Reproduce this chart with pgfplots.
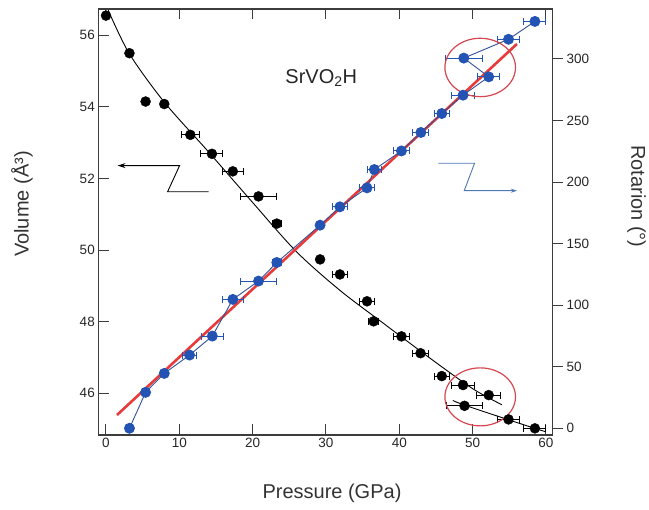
\documentclass[border=0pt]{standalone}
\usepackage{fontspec}
\setmainfont{Liberation Sans}
\usepackage{pgfplots}
\pgfplotsset{compat=1.18}
\usepackage{pgfplotstable}
\usetikzlibrary{arrows.meta}

\definecolor{ptblue}{RGB}{35,84,180}
\definecolor{lnblue}{RGB}{50,80,150}
\definecolor{fitred}{RGB}{232,58,58}
\definecolor{ringred}{RGB}{214,70,80}
\definecolor{arrblue}{RGB}{80,120,180}
\definecolor{axgray}{RGB}{60,60,60}

% pressure (GPa), volume (A^3), pressure error
\pgfplotstableread{
p v e
0 56.55 0
3.2 55.50 0
5.4 54.15 0
7.95 54.08 0
11.5 53.22 1.2
14.45 52.69 1.5
17.3 52.20 1.4
20.8 51.50 2.5
23.3 50.74 0.6
29.2 49.74 0
31.9 49.32 1.0
35.6 48.57 1.0
36.5 48.01 0.7
40.3 47.59 1.1
42.9 47.12 1.1
45.8 46.48 1.0
48.7 46.23 1.6
52.2 45.95 1.6
48.9 45.65 2.5
54.9 45.27 1.5
58.5 45.02 1.5
}\volume

% pressure (GPa), rotation (deg), pressure error
\pgfplotstableread{
p r e
3.2 0 0
5.4 29.2 0
7.95 44.6 0
11.4 59.5 1.0
14.5 74.9 1.5
17.3 104.7 1.4
20.8 119.6 2.5
23.3 134.7 0.6
29.2 165.0 0
31.9 179.9 1.0
35.6 195.3 1.0
36.6 210.2 1.0
40.3 225.3 1.1
42.95 240.3 1.1
45.8 255.7 1.0
48.7 270.6 1.6
52.2 285.5 1.5
48.8 300.7 2.5
54.9 316.0 1.5
58.5 330.5 1.5
}\rotation

\begin{document}
\begin{tikzpicture}
\pgfplotsset{
  common/.style={
    scale only axis, width=454.2pt, height=426pt,
    xmin=-1.05, xmax=60.9, clip=false,
    tick label style={font=\fontsize{13.5}{16}\selectfont, text=black!85},
    /pgf/number format/assume math mode=true,
    axis line style={axgray, line width=1.2pt},
    major tick length=10.5pt,
    tick style={axgray, line width=1pt},
  },
}
\begin{axis}[common,
    ymin=44.835, ymax=56.735,
    xtick={0,10,...,60}, ytick={46,48,...,56},
    ytick pos=left, tick align=inside,
    xlabel={Pressure (GPa)}, ylabel={Volume (Å³)},
    every axis x label/.style={at={(axis description cs:0.5145,-0.136)}, anchor=center, font=\fontsize{20}{24}\selectfont, text=black!80},
    every axis y label/.style={at={(axis description cs:-0.168,0.542)}, anchor=center, rotate=90, font=\fontsize{20}{24}\selectfont, text=black!80},
]
% fitted curves
\addplot[black, line width=0.9pt, smooth] coordinates {
  (0.3,56.70) (3.2,55.48) (8,54.12) (14,52.74) (20,51.33) (26,49.95)
  (32,48.86) (38,47.93) (44,47.01) (50,46.13) (54,45.68)};
\addplot[black, line width=0.9pt, smooth] coordinates {
  (47.3,45.80) (48.9,45.67) (54.9,45.26) (58.5,45.02) (59.9,44.93)};
\addplot[only marks, mark=*, mark size=5pt, black,
  error bars/.cd, x dir=both, x explicit, error mark=|,
  error bar style={line width=1pt, black},
  error mark options={line width=1pt, mark size=3.5pt, black}]
  table[x=p, y=v, x error=e] {\volume};
\node[anchor=base west, font=\fontsize{20}{24}\selectfont, text=black!85] at (axis cs:24.0,54.66) {SrVO\textsubscript{2}H};
\draw[black, line width=0.9pt, -{Stealth[length=8pt,width=5pt]}]
  (axis cs:13.99,51.63) -- (axis cs:8.40,51.63) -- (axis cs:10.04,52.36) -- (axis cs:1.58,52.36);
\draw[ringred, line width=1.2pt] (axis cs:51.04,45.9) ellipse [x radius=35.3pt, y radius=29pt];
\end{axis}

\begin{axis}[common,
    ymin=-5.44, ymax=340.6,
    hide x axis,
    ytick={0,50,...,300}, ytick pos=right, yticklabel pos=right, tick align=outside,
    ylabel={Rotarion (°)},
    every axis y label/.style={at={(axis description cs:1.185,0.56)}, anchor=center, rotate=-90, font=\fontsize{20}{24}\selectfont, text=black!80},
]
\addplot[fitred, line width=2.6pt] coordinates {(1.5,10.8) (56.05,312.2)};
\addplot[lnblue, line width=0.9pt, mark=*, mark size=5pt,
  mark options={ptblue, fill=ptblue},
  error bars/.cd, x dir=both, x explicit, error mark=|,
  error bar style={line width=1pt, ptblue},
  error mark options={line width=1pt, mark size=3.5pt, ptblue}]
  table[x=p, y=r, x error=e] {\rotation};
\draw[ringred, line width=1.2pt] (axis cs:51.04,293.1) ellipse [x radius=35.3pt, y radius=29.2pt];
\draw[arrblue, line width=0.9pt, -{Stealth[length=6pt,width=4pt]}]
  (axis cs:45.35,215.3) -- (axis cs:50.27,215.3) -- (axis cs:48.86,193.0) -- (axis cs:56.05,193.0);
\end{axis}

\pgfresetboundingbox
\path (-98.3pt,-75pt) rectangle (550.7pt,435pt);
\end{tikzpicture}
\end{document}
